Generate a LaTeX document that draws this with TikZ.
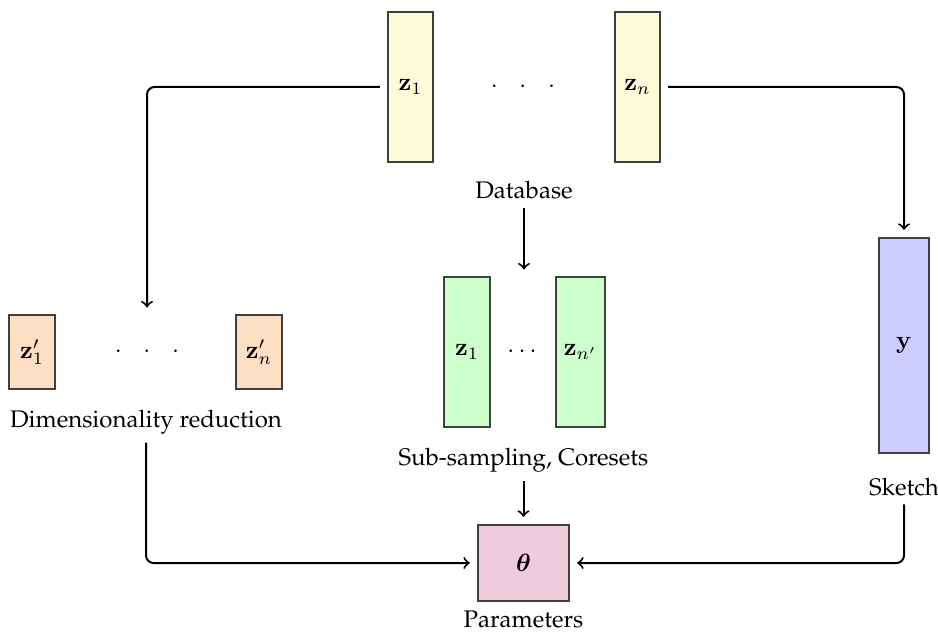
\documentclass[tikz,border=0pt]{standalone}
\usepackage[T1]{fontenc}
\renewcommand{\rmdefault}{ppl}
\usepackage{bm}
\usetikzlibrary{calc}
\definecolor{cyel}{HTML}{FFFBD9}
\definecolor{cgrn}{HTML}{CCFFCC}
\definecolor{corg}{HTML}{FDDFC4}
\definecolor{cblu}{HTML}{CCCCFF}
\definecolor{cpnk}{HTML}{F0CBDB}
\begin{document}
\begin{tikzpicture}[x=0.4pt,y=-0.4pt,font=\fontsize{9.6}{11.5}\selectfont,
  vecbox/.style={draw=black!75,line width=0.5pt,inner sep=0pt,minimum width=18pt},
  lbl/.style={anchor=base},
  conn/.style={->,line width=0.8pt,rounded corners=3pt,shorten <=3pt,shorten >=3pt}]
\useasboundingbox (0,0) rectangle (938,632);
% database
\node[vecbox,fill=cyel,minimum height=60pt] (za) at (410.5,87) {$\mathbf{z}_1$};
\node[vecbox,fill=cyel,minimum height=60pt] (zb) at (637.5,87) {$\mathbf{z}_n$};
\node (dtop) at (523,87) {${\cdot}\hspace{8.7pt}{\cdot}\hspace{8.7pt}{\cdot}$};
\node[lbl] (db) at (524,199) {Database};
% subsampling
\node[vecbox,fill=cgrn,minimum width=18.4pt,minimum height=60pt] (sa) at (467,352) {$\mathbf{z}_1$};
\node[vecbox,fill=cgrn,minimum width=19.6pt,minimum height=60pt] (sb) at (580.5,352) {$\mathbf{z}_{n'}$};
\node (smid) at (522,352) {$\cdots$};
\coordinate (stop) at (524,277);
\node[lbl] (ss) at (523.5,465) {Sub-sampling, Coresets};
% dimensionality reduction
\node[vecbox,fill=corg,minimum width=18.4pt,minimum height=29.6pt] (ra) at (32,352) {$\mathbf{z}'_1$};
\node[vecbox,fill=corg,minimum width=18.4pt,minimum height=29.6pt] (rb) at (259,352) {$\mathbf{z}'_n$};
\node (rmid) at (147,352) {${\cdot}\hspace{8.7pt}{\cdot}\hspace{8.7pt}{\cdot}$};
\coordinate (rtop) at (147,315);
\node[lbl] (dr) at (146,427) {Dimensionality reduction};
% sketch
\node[vecbox,fill=cblu,minimum width=20pt,minimum height=86pt] (y) at (904,345.5) {$\mathbf{y}$};
\node[lbl] (sk) at (904,495) {Sketch};
% parameters
\node[vecbox,fill=cpnk,minimum width=36.4pt,minimum height=30.4pt] (th) at (523.5,563) {$\bm{\theta}$};
\node[lbl] (pa) at (523.5,627) {Parameters};
% connectors
\draw[conn] (za.west) -| (rtop);
\draw[conn] (zb.east) -| (y.north);
\draw[conn,shorten <=0pt] (db.south) -- (db.south |- stop);
\draw[conn,shorten <=0pt] (ss.south -| th.north) -- (th.north);
\draw[conn,shorten <=0pt] (dr.south) |- (th.west);
\draw[conn,shorten <=0pt] (sk.south) |- (th.east);
\end{tikzpicture}
\end{document}
